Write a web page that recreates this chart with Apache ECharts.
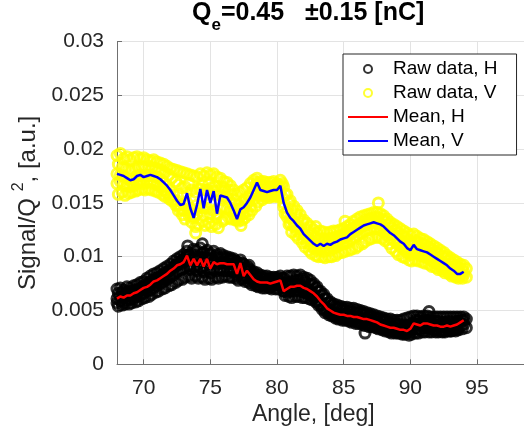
<!DOCTYPE html>
<html>
<head>
<meta charset="utf-8">
<script src="https://cdn.jsdelivr.net/npm/echarts@6/dist/echarts.min.js"></script>
<style>
  html, body { margin: 0; padding: 0; background: #fff; }
  #chart { width: 524px; height: 433px; }
</style>
</head>
<body>
<div id="chart"></div>
<script>
// angle grid, deg
const angle = [
  68, 68.25, 68.5, 68.75, 69, 69.25, 69.5, 69.75, 70, 70.25, 70.5, 70.75, 71, 71.25, 71.5, 71.75, 72, 72.25, 72.5, 72.75,
  73, 73.25, 73.5, 73.75, 74, 74.25, 74.5, 74.75, 75, 75.25, 75.5, 75.75, 76, 76.25, 76.5, 76.75, 77, 77.25, 77.5, 77.75,
  78, 78.25, 78.5, 78.75, 79, 79.25, 79.5, 79.75, 80, 80.25, 80.5, 80.75, 81, 81.25, 81.5, 81.75, 82, 82.25, 82.5, 82.75,
  83, 83.25, 83.5, 83.75, 84, 84.25, 84.5, 84.75, 85, 85.25, 85.5, 85.75, 86, 86.25, 86.5, 86.75, 87, 87.25, 87.5, 87.75,
  88, 88.25, 88.5, 88.75, 89, 89.25, 89.5, 89.75, 90, 90.25, 90.5, 90.75, 91, 91.25, 91.5, 91.75, 92, 92.25, 92.5, 92.75,
  93, 93.25, 93.5, 93.75, 94
];
// second set of raw-data angles (shots taken between the grid points)
const angleB = [
  68.1, 68.4, 68.6, 68.9, 69.1, 69.4, 69.6, 69.9, 70.1, 70.4, 70.6, 70.9, 71.1, 71.4, 71.6, 71.9, 72.1, 72.4, 72.6, 72.9,
  73.1, 73.4, 73.6, 73.9, 74.1, 74.4, 74.6, 74.9, 75.1, 75.4, 75.6, 75.9, 76.1, 76.4, 76.6, 76.9, 77.1, 77.4, 77.6, 77.9,
  78.1, 78.4, 78.6, 78.9, 79.1, 79.4, 79.6, 79.9, 80.1, 80.4, 80.6, 80.9, 81.1, 81.4, 81.6, 81.9, 82.1, 82.4, 82.6, 82.9,
  83.1, 83.4, 83.6, 83.9, 84.1, 84.4, 84.6, 84.9, 85.1, 85.4, 85.6, 85.9, 86.1, 86.4, 86.6, 86.9, 87.1, 87.4, 87.6, 87.9,
  88.1, 88.4, 88.6, 88.9, 89.1, 89.4, 89.6, 89.9, 90.1, 90.4, 90.6, 90.9, 91.1, 91.4, 91.6, 91.9, 92.1, 92.4, 92.6, 92.9,
  93.1, 93.4, 93.6, 93.9, 94.2
];

// mean curves
const meanV = [
  0.0177,0.0176,0.0175,0.0173,0.0171,0.0172,0.0175,0.0176,0.0174,0.0175,0.0176,0.0175,0.0174,0.0172,0.0169,0.0166,0.0162,0.0157,0.0152,0.0148,
  0.0149,0.0159,0.0145,0.0136,0.0148,0.0163,0.0145,0.0162,0.0150,0.0161,0.0140,0.0157,0.0156,0.0155,0.0150,0.0143,0.0135,0.0144,0.0146,0.0150,
  0.0155,0.0162,0.0169,0.0162,0.0161,0.0160,0.0161,0.0162,0.0162,0.0166,0.0150,0.0141,0.0136,0.0133,0.0129,0.0126,0.0121,0.0118,0.0115,0.0112,
  0.0110,0.0112,0.0110,0.0112,0.0111,0.0113,0.0114,0.0116,0.0117,0.0118,0.0121,0.0123,0.0125,0.0127,0.0129,0.0130,0.0131,0.0132,0.0131,0.0130,
  0.0128,0.0125,0.0122,0.0120,0.0117,0.0114,0.0112,0.0108,0.0106,0.0111,0.0107,0.0106,0.0105,0.0104,0.0102,0.0100,0.0098,0.0096,0.0094,0.0092,
  0.0089,0.0087,0.0084,0.0084,0.0086
];
const meanH = [
  0.0061,0.0063,0.0062,0.0064,0.0064,0.0066,0.0067,0.0069,0.0071,0.0072,0.0074,0.0077,0.0078,0.0080,0.0082,0.0084,0.0087,0.0089,0.0092,0.0093,
  0.0095,0.0101,0.0092,0.0098,0.0092,0.0098,0.0091,0.0098,0.0089,0.0095,0.0093,0.0094,0.0094,0.0093,0.0093,0.0093,0.0084,0.0094,0.0082,0.0087,
  0.0083,0.0079,0.0077,0.0076,0.0076,0.0076,0.0075,0.0076,0.0077,0.0078,0.0068,0.0070,0.0072,0.0072,0.0073,0.0073,0.0071,0.0070,0.0068,0.0066,
  0.0063,0.0059,0.0056,0.0052,0.0050,0.0048,0.0047,0.0046,0.0046,0.0045,0.0045,0.0044,0.0044,0.0043,0.0042,0.0042,0.0041,0.0040,0.0039,0.0037,
  0.0036,0.0035,0.0034,0.0034,0.0033,0.0032,0.0032,0.0031,0.0033,0.0038,0.0037,0.0036,0.0038,0.0038,0.0037,0.0036,0.0036,0.0035,0.0035,0.0036,
  0.0035,0.0036,0.0037,0.0039,0.0041
];

// raw V points (several readings per angle)
const rawV1 = [
  0.0194,0.0196,0.0191,0.0193,0.0190,0.0192,0.0193,0.0191,0.0192,0.0190,0.0189,0.0190,0.0188,0.0187,0.0186,0.0184,0.0182,0.0181,0.0180,0.0179,
  0.0178,0.0177,0.0176,0.0175,0.0174,0.0177,0.0175,0.0178,0.0176,0.0177,0.0174,0.0173,0.0170,0.0169,0.0166,0.0162,0.0158,0.0160,0.0162,0.0164,
  0.0168,0.0171,0.0173,0.0170,0.0170,0.0169,0.0169,0.0170,0.0168,0.0171,0.0165,0.0158,0.0152,0.0147,0.0143,0.0139,0.0134,0.0131,0.0128,0.0125,
  0.0122,0.0124,0.0123,0.0122,0.0123,0.0124,0.0124,0.0125,0.0126,0.0128,0.0130,0.0133,0.0135,0.0137,0.0138,0.0139,0.0140,0.0141,0.0141,0.0140,
  0.0138,0.0135,0.0132,0.0130,0.0128,0.0126,0.0124,0.0122,0.0120,0.0121,0.0119,0.0117,0.0116,0.0114,0.0112,0.0110,0.0108,0.0106,0.0104,0.0101,
  0.0099,0.0097,0.0095,0.0093,0.0092
];
const rawV2 = [
  0.0186,0.0183,0.0182,0.0181,0.0180,0.0181,0.0183,0.0184,0.0183,0.0184,0.0183,0.0182,0.0181,0.0180,0.0178,0.0176,0.0173,0.0170,0.0167,0.0164,
  0.0165,0.0168,0.0162,0.0160,0.0163,0.0167,0.0162,0.0168,0.0164,0.0166,0.0161,0.0165,0.0163,0.0162,0.0158,0.0153,0.0148,0.0151,0.0153,0.0156,
  0.0160,0.0166,0.0167,0.0166,0.0166,0.0165,0.0165,0.0166,0.0165,0.0168,0.0158,0.0150,0.0144,0.0140,0.0136,0.0132,0.0127,0.0124,0.0121,0.0118,
  0.0116,0.0117,0.0116,0.0117,0.0117,0.0118,0.0119,0.0120,0.0122,0.0123,0.0126,0.0128,0.0130,0.0132,0.0134,0.0135,0.0136,0.0137,0.0136,0.0135,
  0.0133,0.0130,0.0127,0.0125,0.0122,0.0120,0.0118,0.0115,0.0113,0.0115,0.0113,0.0112,0.0111,0.0109,0.0107,0.0105,0.0103,0.0101,0.0099,0.0097,
  0.0094,0.0092,0.0090,0.0089,0.0089
];
const rawV3 = [
  0.0168,0.0170,0.0167,0.0166,0.0165,0.0166,0.0168,0.0170,0.0168,0.0169,0.0170,0.0168,0.0167,0.0165,0.0162,0.0159,0.0156,0.0152,0.0148,0.0145,
  0.0143,0.0150,0.0140,0.0138,0.0140,0.0146,0.0139,0.0145,0.0140,0.0143,0.0137,0.0144,0.0146,0.0145,0.0143,0.0139,0.0137,0.0138,0.0140,0.0142,
  0.0147,0.0153,0.0158,0.0157,0.0157,0.0157,0.0158,0.0158,0.0159,0.0160,0.0146,0.0137,0.0131,0.0128,0.0124,0.0121,0.0117,0.0113,0.0110,0.0108,
  0.0106,0.0107,0.0105,0.0107,0.0106,0.0108,0.0109,0.0111,0.0112,0.0113,0.0116,0.0118,0.0120,0.0122,0.0124,0.0125,0.0126,0.0127,0.0126,0.0125,
  0.0123,0.0120,0.0117,0.0115,0.0112,0.0109,0.0107,0.0104,0.0102,0.0105,0.0103,0.0101,0.0100,0.0099,0.0097,0.0095,0.0093,0.0091,0.0089,0.0087,
  0.0085,0.0083,0.0082,0.0082,0.0083
];
const rawV4 = [
  0.0158,0.0160,0.0157,0.0159,0.0160,0.0161,0.0162,0.0163,0.0162,0.0163,0.0162,0.0161,0.0160,0.0158,0.0156,0.0154,0.0152,0.0148,0.0143,0.0139,
  0.0135,0.0138,0.0132,0.0128,0.0130,0.0133,0.0129,0.0131,0.0128,0.0130,0.0127,0.0133,0.0135,0.0136,0.0135,0.0134,0.0133,0.0134,0.0136,0.0139,
  0.0143,0.0147,0.0151,0.0153,0.0155,0.0155,0.0156,0.0156,0.0156,0.0155,0.0140,0.0130,0.0123,0.0120,0.0117,0.0113,0.0109,0.0106,0.0103,0.0101,
  0.0100,0.0100,0.0099,0.0100,0.0100,0.0101,0.0103,0.0104,0.0105,0.0106,0.0107,0.0108,0.0110,0.0112,0.0114,0.0116,0.0117,0.0118,0.0118,0.0117,
  0.0115,0.0112,0.0108,0.0105,0.0102,0.0100,0.0099,0.0097,0.0096,0.0097,0.0096,0.0095,0.0094,0.0093,0.0091,0.0090,0.0088,0.0087,0.0085,0.0084,
  0.0082,0.0081,0.0080,0.0080,0.0081
];

// raw H points
const rawH1 = [
  0.0070,0.0071,0.0069,0.0072,0.0071,0.0073,0.0074,0.0076,0.0077,0.0080,0.0082,0.0084,0.0085,0.0087,0.0089,0.0091,0.0093,0.0096,0.0098,0.0100,
  0.0102,0.0105,0.0103,0.0107,0.0106,0.0108,0.0104,0.0106,0.0103,0.0105,0.0102,0.0103,0.0101,0.0100,0.0099,0.0098,0.0095,0.0097,0.0093,0.0091,
  0.0087,0.0086,0.0085,0.0083,0.0082,0.0082,0.0081,0.0081,0.0081,0.0082,0.0080,0.0082,0.0082,0.0083,0.0082,0.0083,0.0081,0.0080,0.0078,0.0075,
  0.0072,0.0068,0.0065,0.0061,0.0058,0.0056,0.0055,0.0054,0.0053,0.0053,0.0052,0.0052,0.0051,0.0050,0.0049,0.0048,0.0047,0.0046,0.0045,0.0044,
  0.0043,0.0042,0.0042,0.0041,0.0041,0.0041,0.0042,0.0043,0.0044,0.0045,0.0045,0.0044,0.0045,0.0045,0.0044,0.0044,0.0044,0.0044,0.0044,0.0044,
  0.0044,0.0044,0.0044,0.0044,0.0044
];
const rawH2 = [
  0.0066,0.0067,0.0066,0.0068,0.0068,0.0069,0.0070,0.0072,0.0074,0.0076,0.0078,0.0080,0.0081,0.0083,0.0085,0.0087,0.0090,0.0092,0.0095,0.0097,
  0.0099,0.0101,0.0098,0.0101,0.0100,0.0103,0.0099,0.0102,0.0098,0.0100,0.0099,0.0099,0.0098,0.0097,0.0097,0.0096,0.0092,0.0094,0.0089,0.0089,
  0.0085,0.0083,0.0081,0.0080,0.0079,0.0079,0.0078,0.0079,0.0079,0.0080,0.0075,0.0076,0.0077,0.0078,0.0078,0.0079,0.0077,0.0075,0.0074,0.0071,
  0.0068,0.0064,0.0061,0.0057,0.0055,0.0053,0.0052,0.0051,0.0050,0.0049,0.0049,0.0048,0.0048,0.0047,0.0046,0.0045,0.0044,0.0043,0.0042,0.0041,
  0.0040,0.0039,0.0038,0.0038,0.0037,0.0037,0.0036,0.0036,0.0038,0.0041,0.0041,0.0040,0.0041,0.0041,0.0040,0.0040,0.0040,0.0039,0.0039,0.0040,
  0.0039,0.0040,0.0040,0.0041,0.0042
];
const rawH3 = [
  0.0057,0.0059,0.0058,0.0060,0.0060,0.0061,0.0063,0.0064,0.0066,0.0068,0.0069,0.0071,0.0073,0.0075,0.0077,0.0079,0.0081,0.0083,0.0086,0.0088,
  0.0089,0.0091,0.0088,0.0090,0.0087,0.0090,0.0086,0.0089,0.0085,0.0088,0.0087,0.0088,0.0087,0.0087,0.0087,0.0086,0.0082,0.0085,0.0080,0.0081,
  0.0079,0.0076,0.0074,0.0073,0.0073,0.0073,0.0072,0.0073,0.0074,0.0074,0.0068,0.0067,0.0068,0.0068,0.0069,0.0068,0.0067,0.0066,0.0064,0.0062,
  0.0059,0.0055,0.0052,0.0049,0.0047,0.0045,0.0044,0.0043,0.0043,0.0042,0.0041,0.0041,0.0040,0.0039,0.0039,0.0038,0.0037,0.0036,0.0035,0.0034,
  0.0033,0.0032,0.0031,0.0031,0.0030,0.0029,0.0029,0.0029,0.0030,0.0034,0.0033,0.0032,0.0034,0.0034,0.0033,0.0032,0.0032,0.0031,0.0031,0.0032,
  0.0031,0.0032,0.0033,0.0035,0.0037
];
const rawH4 = [
  0.0054,0.0055,0.0056,0.0056,0.0057,0.0058,0.0059,0.0061,0.0062,0.0063,0.0065,0.0067,0.0068,0.0070,0.0071,0.0073,0.0074,0.0076,0.0078,0.0079,
  0.0081,0.0082,0.0080,0.0082,0.0080,0.0081,0.0079,0.0080,0.0079,0.0081,0.0080,0.0081,0.0082,0.0081,0.0081,0.0080,0.0078,0.0079,0.0077,0.0076,
  0.0074,0.0073,0.0072,0.0071,0.0071,0.0071,0.0070,0.0070,0.0070,0.0071,0.0064,0.0063,0.0062,0.0063,0.0063,0.0062,0.0062,0.0061,0.0060,0.0058,
  0.0055,0.0051,0.0048,0.0046,0.0045,0.0043,0.0042,0.0041,0.0041,0.0040,0.0039,0.0038,0.0038,0.0037,0.0036,0.0035,0.0035,0.0034,0.0033,0.0032,
  0.0031,0.0030,0.0029,0.0029,0.0029,0.0028,0.0028,0.0027,0.0028,0.0029,0.0029,0.0030,0.0030,0.0030,0.0030,0.0030,0.0030,0.0030,0.0030,0.0031,
  0.0031,0.0031,0.0032,0.0033,0.0034
];

// a few stray points
const strayV = [[73.9, 0.0122], [77.3, 0.0129], [87.6, 0.0150], [85.1, 0.0133], [82.9, 0.0128]];
const strayH = [[74.4, 0.0112], [73.3, 0.0110], [77.9, 0.0092], [91.4, 0.0049], [86.6, 0.0029]];

const pairs = (xs, ys) => xs.map((a, i) => [a, ys[i]]);
const rawHData = [].concat(
  pairs(angle, rawH1), pairs(angleB, rawH2), pairs(angle, rawH3), pairs(angleB, rawH4), pairs(angle, meanH), strayH
);
const rawVData = [].concat(
  pairs(angle, rawV1), pairs(angleB, rawV2), pairs(angle, rawV3), pairs(angleB, rawV4), pairs(angle, meanV), strayV
);

const font = 'Liberation Sans, Arial, Helvetica, sans-serif';
const txt = '#262626';
const noMarker = { color: 'rgba(0,0,0,0)', borderWidth: 0 };

const chart = echarts.init(document.getElementById('chart'));
chart.setOption({
  animation: false,
  backgroundColor: '#fff',
  textStyle: { fontFamily: font },
  title: {
    text: '{a|Q}{sub|e}{a|=0.45   \u00b10.15 [nC]}',
    left: 192,
    top: -7,
    padding: 0,
    textStyle: {
      rich: {
        a: { fontSize: 25, fontWeight: 'bold', color: '#000', fontFamily: font },
        sub: { fontSize: 17, fontWeight: 'bold', color: '#000', fontFamily: font, padding: [24, 0, 0, 0] }
      }
    }
  },
  // the axes run past the right edge of the picture (x up to 100)
  grid: { left: 117, top: 41.5, width: 426.7, bottom: 68.7, outerBoundsMode: 'none', containLabel: false },
  xAxis: {
    type: 'value',
    min: 68,
    max: 100,
    name: 'Angle, [deg]',
    nameLocation: 'middle',
    nameGap: 38,
    nameTextStyle: { fontSize: 23, color: txt, fontFamily: font, padding: [0, 34, 0, 0] },
    axisLine: { lineStyle: { color: '#707070', width: 1 } },
    axisTick: { inside: true, length: 5, lineStyle: { color: '#707070' } },
    axisLabel: { fontSize: 21, color: txt, margin: 13, showMinLabel: false, fontFamily: font },
    splitLine: { show: true, lineStyle: { color: '#e3e3e3', width: 1 } }
  },
  yAxis: {
    type: 'value',
    min: 0,
    max: 0.03,
    interval: 0.005,
    name: '{a|Signal/Q }{sup|2}{a|, [a.u.]}',
    nameLocation: 'middle',
    nameGap: 72,
    nameTextStyle: {
      rich: {
        a: { fontSize: 24, color: txt, fontFamily: font },
        sup: { fontSize: 16, color: txt, fontFamily: font, padding: [0, 0, 18, 0] }
      }
    },
    axisLine: { show: true, lineStyle: { color: '#707070', width: 1 } },
    axisTick: { show: true, inside: true, length: 5, lineStyle: { color: '#707070' } },
    axisLabel: { fontSize: 21, color: txt, margin: 13, fontFamily: font },
    splitLine: { show: true, lineStyle: { color: '#e3e3e3', width: 1 } }
  },
  legend: {
    orient: 'vertical',
    left: 343,
    top: 54,
    padding: [4, 19, 3, 4],
    itemGap: 2,
    itemWidth: 40,
    itemHeight: 8,
    itemTextGap: 5,
    backgroundColor: '#fff',
    borderColor: '#262626',
    borderWidth: 1,
    borderRadius: 0,
    textStyle: { fontSize: 19, color: '#000', lineHeight: 22, fontFamily: font },
    data: [
      'Raw data, H',
      'Raw data, V',
      { name: 'Mean, H', itemStyle: noMarker },
      { name: 'Mean, V', itemStyle: noMarker }
    ]
  },
  series: [
    {
      name: 'Raw data, H',
      type: 'scatter',
      data: rawHData,
      symbol: 'circle',
      symbolSize: 10,
      clip: false,
      itemStyle: { color: 'rgba(0,0,0,0)', borderColor: '#000', borderWidth: 3 }
    },
    {
      name: 'Raw data, V',
      type: 'scatter',
      data: rawVData,
      symbol: 'circle',
      symbolSize: 10,
      clip: false,
      itemStyle: { color: 'rgba(0,0,0,0)', borderColor: '#ffff00', borderWidth: 3 }
    },
    {
      name: 'Mean, H',
      type: 'line',
      data: pairs(angle, meanH),
      showSymbol: false,
      symbol: 'none',
      color: '#ff0000',
      lineStyle: { color: '#ff0000', width: 2.5 }
    },
    {
      name: 'Mean, V',
      type: 'line',
      data: pairs(angle, meanV),
      showSymbol: false,
      symbol: 'none',
      color: '#0000ff',
      lineStyle: { color: '#0000ff', width: 2.5 }
    }
  ]
});
</script>
</body>
</html>
